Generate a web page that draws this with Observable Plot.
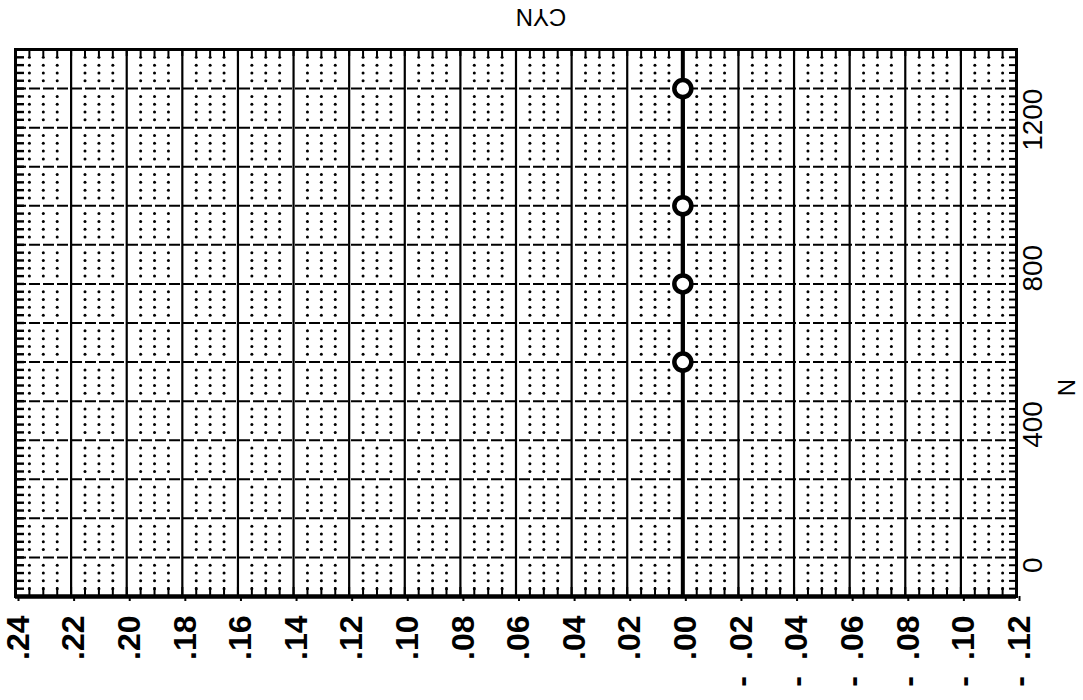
<!DOCTYPE html>
<html><head><meta charset="utf-8">
<script src="https://cdn.jsdelivr.net/npm/d3@7"></script>
<script src="https://cdn.jsdelivr.net/npm/@observablehq/plot@0.6"></script>
<style>body{margin:0;background:#fff;} svg{display:block;}</style>
</head><body><div id="chart"></div>
<script>
// Data
const nValues = [500, 700, 900, 1200];
const cynValues = [0, 0, 0, 0];
// Axis ticks
const cynTickLabels = [0.24, 0.22, 0.20, 0.18, 0.16, 0.14, 0.12, 0.10, 0.08, 0.06, 0.04, 0.02, 0.00, -0.02, -0.04, -0.06, -0.08, -0.10, -0.12];
const nTickLabels = [0, 400, 800, 1200];
const titleText = "CYN";
const nAxisLabel = "N";

const W = 1083, H = 700, mL = 15, mR = 67, mT = 49, mB = 104;
const iW = W - mL - mR, iH = H - mT - mB;

// grid positions (in thousandths for CYN, units for N)
const xAll = d3.range(-120, 241, 5);
const xMinor = xAll.filter(v => v % 20 !== 0).map(v => v / 1000);
const xAllV = xAll.map(v => v / 1000);
const xMajor = xAll.filter(v => v % 20 === 0).map(v => v / 1000);
const yAll = d3.range(-100, 1301, 20);
const yMinor = yAll.filter(v => v % 100 !== 0);
const yMajor = yAll.filter(v => v % 100 === 0);
const dotGrid = d3.cross(xMinor, yMinor);

const data = nValues.map((n, i) => ({n, cyn: cynValues[i]}));
const fmt = d => {
  const s = Math.abs(d).toFixed(2).replace(/^0/, "");
  return d < -1e-9 ? "-\u2002" + s : s;
};

const chart = Plot.plot({
  width: W, height: H,
  marginLeft: mL, marginRight: mR, marginTop: mT, marginBottom: mB,
  style: {background: "white", color: "black", fontFamily: "'Liberation Sans', Arial, sans-serif"},
  x: {domain: [0.24, -0.12], axis: null},
  y: {domain: [-100, 1300], axis: null},
  marks: [
    Plot.dot(dotGrid, {x: d => d[0], y: d => d[1], r: 1.5, fill: "black", stroke: null}),
    Plot.ruleX(xMajor, {stroke: "black", strokeWidth: 2.2}),
    Plot.ruleY(yMajor, {stroke: "black", strokeWidth: 2, strokeDasharray: "11,3"}),
    // edge ticks
    Plot.ruleX(xAllV, {stroke: "black", strokeWidth: 2, insetBottom: iH - 7}),
    Plot.ruleX(xAllV, {stroke: "black", strokeWidth: 2, insetTop: iH - 9}),
    Plot.ruleY(yAll, {stroke: "black", strokeWidth: 2.4, insetRight: iW - 9}),
    Plot.ruleY(yAll, {stroke: "black", strokeWidth: 2, insetLeft: iW - 7}),
    Plot.frame({stroke: "black", strokeWidth: 3}),
    Plot.ruleY([-100], {stroke: "black", strokeWidth: 4.5}),
    // data
    Plot.ruleX([0], {stroke: "black", strokeWidth: 4}),
    Plot.line(data, {x: "cyn", y: "n", stroke: "black", strokeWidth: 4}),
    Plot.dot(data, {x: "cyn", y: "n", r: 8.5, fill: "white", stroke: "black", strokeWidth: 4.5}),
    // axes
    Plot.axisX(cynTickLabels, {anchor: "bottom", tickSize: 5, tickRotate: -90, tickFormat: fmt, tickPadding: 14,
      fontSize: 32, fontWeight: "bold", strokeWidth: 2, stroke: "black", dx: 3, label: null}),
    Plot.axisY(nTickLabels, {anchor: "right", tickSize: 0, tickRotate: -90, textAnchor: "end", lineAnchor: "top",
      tickPadding: 6, fontSize: 28, label: null, tickFormat: d => String(d)}),
    Plot.text([titleText], {frameAnchor: "top", dx: 25, dy: -23, rotate: 180, fontSize: 24, fill: "black"}),
    Plot.text([nAxisLabel], {frameAnchor: "right", dx: 51, dy: 56, rotate: -90, fontSize: 24, fill: "black"})
  ]
});
document.getElementById("chart").appendChild(chart);
</script>
</body></html>
